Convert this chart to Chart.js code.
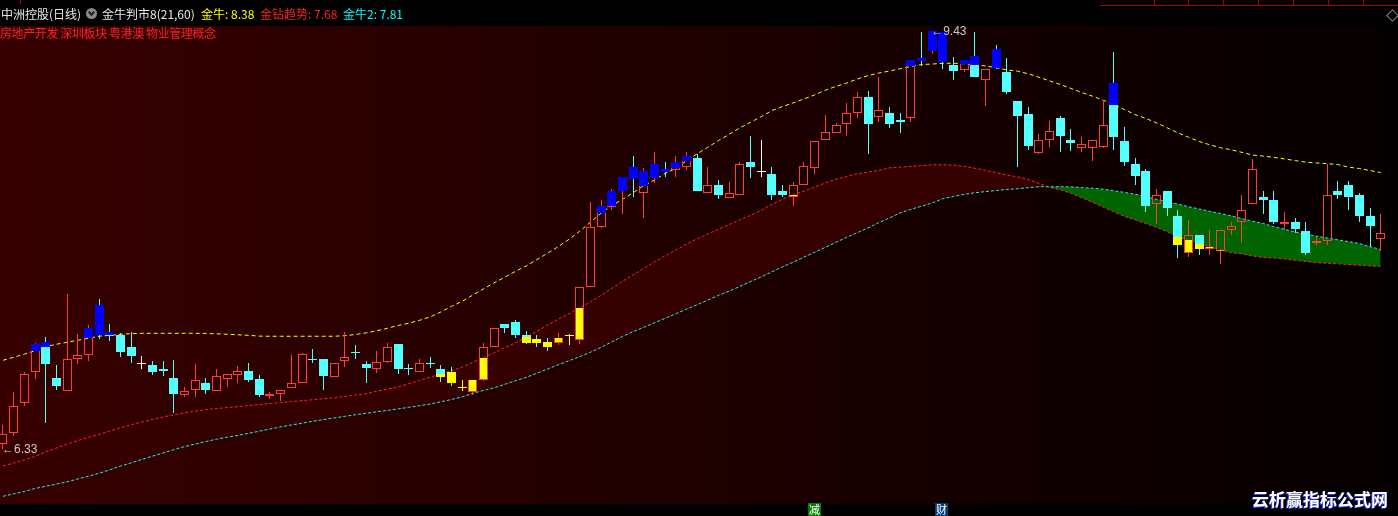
<!DOCTYPE html>
<html>
<head>
<meta charset="utf-8">
<title>中洲控股(日线)</title>
<script src="https://cdn.jsdelivr.net/npm/chart.js@4.4.0/dist/chart.umd.min.js"></script>
<style>
html, body { margin: 0; padding: 0; background: #000; }
#wrap { position: relative; width: 1398px; height: 516px; overflow: hidden;
        font-family: "Noto Sans CJK SC", "Noto Sans", sans-serif; }
#myChart { position: absolute; left: 0; top: 0; }
.t { position: absolute; font-size: 12px; line-height: 16px; white-space: nowrap; }
.ico { position: absolute; left: 86px; top: 8px; width: 11px; height: 11px; border-radius: 50%; background: #8a8a8a; }
.ico::after { content: ''; position: absolute; left: 3px; top: 2px; width: 3px; height: 3px;
              border-right: 2px solid #202020; border-bottom: 2px solid #202020; transform: rotate(45deg); }
.mark { position: absolute; font-family: "Liberation Sans", "DejaVu Sans", sans-serif; font-size: 12px;
        line-height: 14px; color: #c8c8c8; white-space: nowrap; }
.tag { position: absolute; top: 503px; width: 13px; height: 13px; font-size: 11px; line-height: 13px;
       text-align: center; color: #fff; }
.rl { position: absolute; background: #b00000; }
</style>
</head>
<body>
<div id="wrap">
  <canvas id="myChart" width="1398" height="516"></canvas>

  <div class="rl" style="left:20px;top:0;width:1px;height:4px"></div>
  <div class="rl" style="left:1100px;top:5px;width:298px;height:1px"></div>
  <div class="rl" style="left:1154px;top:0;width:1px;height:5px"></div>
  <div class="rl" style="left:1188px;top:0;width:1px;height:5px"></div>
  <div class="rl" style="left:1223px;top:0;width:1px;height:5px"></div>
  <div class="rl" style="left:1258px;top:0;width:1px;height:5px"></div>
  <div class="rl" style="left:1293px;top:0;width:1px;height:5px"></div>
  <div class="rl" style="left:1328px;top:0;width:1px;height:5px"></div>
  <div class="rl" style="left:1363px;top:0;width:1px;height:5px"></div>
  <div style="position:absolute;left:1388px;top:11px;width:7px;height:7px;border:1px solid #8a8a8a;transform:rotate(45deg)"></div>

  <div class="t" style="left:1px;top:6px;color:#e6e6e6">中洲控股(日线)</div>
  <div class="ico"></div>
  <div class="t" style="left:102px;top:6px;color:#e6e6e6">金牛判市8(21,60)</div>
  <div class="t" id="lbl1" style="left:201px;top:6px;color:#ffff00"></div>
  <div class="t" id="lbl2" style="left:260px;top:6px;color:#ff2020"></div>
  <div class="t" id="lbl3" style="left:343px;top:6px;color:#00ffff"></div>
  <div class="t" style="left:0;top:25px;color:#ff2020;letter-spacing:-0.4px">房地产开发 深圳板块 粤港澳 物业管理概念</div>

  <div class="mark" id="hiMark"></div>
  <div class="mark" id="loMark"></div>

  <div class="tag" style="left:808px;background:#067a06">减</div>
  <div class="tag" style="left:935px;background:#053a78">财</div>
  <div class="t" style="left:1252px;top:489px;font-size:17px;line-height:20px;font-weight:bold;color:#fff;text-shadow:-1px 1px 0 #2a40ff">云析赢指标公式网</div>
</div>

<script>
// K线数据 (开 高 低 收)
const openP = [6.37,6.45,6.67,6.90,7.12,6.855,6.76,6.995,7.03,7.395,
  7.20,7.175,7.09,6.96,6.95,6.922,6.855,6.73,6.765,6.82,
  6.76,6.85,6.875,6.905,6.85,6.72,6.735,6.78,6.82,7.00,
  7.00,6.865,6.98,7.05,6.96,6.92,6.975,7.105,6.925,6.90,
  6.97,6.92,6.90,6.785,6.75,6.84,7.085,7.26,7.27,7.175,
  7.145,7.12,7.115,7.165,7.135,7.535,7.98,8.125,8.24,8.425,
  8.23,8.34,8.41,8.40,8.425,8.49,8.23,8.285,8.195,8.215,
  8.46,8.385,8.37,8.245,8.20,8.29,8.415,8.625,8.675,8.74,
  8.82,8.94,8.795,8.82,8.77,8.785,9.23,9.28,9.42,9.18,
  9.14,9.245,9.07,9.295,9.125,8.91,8.815,8.525,8.625,8.785,
  8.625,8.565,8.565,8.57,9.045,8.615,8.44,8.395,8.15,8.245,
  8.06,7.785,7.915,7.81,7.80,7.955,8.01,8.15,8.20,8.18,
  8.00,8.015,7.95,7.855,7.875,8.24,8.285,8.21,8.06,7.89];
const highP = [6.51,6.75,6.90,7.11,7.16,6.95,7.48,7.18,7.25,7.44,
  7.255,7.19,7.20,7.02,6.98,6.98,6.99,6.79,6.96,6.855,
  6.92,6.885,6.945,6.965,6.875,6.75,6.765,7.03,7.035,7.07,
  7.00,6.965,7.195,7.10,6.98,7.055,7.115,7.105,6.96,7.00,
  7.01,6.95,6.935,6.84,6.84,7.115,7.23,7.26,7.285,7.205,
  7.175,7.15,7.19,7.18,7.535,8.165,8.18,8.255,8.35,8.505,
  8.415,8.535,8.46,8.50,8.535,8.52,8.425,8.325,8.31,8.455,
  8.65,8.625,8.425,8.285,8.31,8.46,8.615,8.81,8.75,8.895,
  8.98,8.985,9.09,8.865,8.82,9.215,9.42,9.43,9.42,9.235,
  9.215,9.42,9.15,9.325,9.23,8.91,8.865,8.665,8.765,8.80,
  8.705,8.645,8.625,8.92,9.275,8.72,8.49,8.41,8.26,8.245,
  8.105,8.03,7.915,7.955,7.955,8.015,8.21,8.48,8.24,8.24,
  8.09,8.04,8.015,7.90,8.445,8.32,8.32,8.225,8.12,8.07];
const lowP = [6.33,6.43,6.65,6.85,6.52,6.77,6.76,6.96,6.98,7.145,
  7.13,7.01,6.965,6.92,6.875,6.87,6.60,6.715,6.715,6.735,
  6.76,6.79,6.82,6.83,6.715,6.70,6.685,6.78,6.82,6.965,
  6.765,6.865,6.94,7.00,6.82,6.89,6.965,6.885,6.875,6.90,
  6.93,6.825,6.795,6.76,6.73,6.835,7.085,7.19,7.155,7.11,
  7.09,7.06,7.10,7.10,7.105,7.535,7.97,8.10,8.075,8.20,
  8.04,8.305,8.35,8.35,8.40,8.24,8.23,8.185,8.195,8.215,
  8.34,8.35,8.18,8.20,8.135,8.29,8.37,8.625,8.675,8.65,
  8.785,8.52,8.755,8.71,8.675,8.755,9.17,9.26,9.15,9.07,
  9.125,9.09,8.875,9.15,8.965,8.425,8.55,8.52,8.57,8.535,
  8.54,8.535,8.465,8.565,8.55,8.43,8.285,8.09,7.995,8.06,
  7.745,7.755,7.765,7.765,7.705,7.92,7.855,8.15,8.075,8.00,
  7.955,7.935,7.77,7.84,7.84,8.185,8.105,8.015,7.83,7.80];
const closeP = [6.44,6.65,6.885,7.107,6.96,6.80,7.00,7.03,7.23,7.175,
  7.165,7.05,7.02,6.96,6.90,6.907,6.74,6.76,6.84,6.765,
  6.87,6.885,6.905,6.84,6.73,6.737,6.765,6.82,7.033,6.99,
  6.87,6.965,7.01,7.04,6.93,6.975,7.09,6.92,6.92,6.965,
  6.96,6.865,6.82,6.785,6.84,7.09,7.23,7.23,7.175,7.115,
  7.115,7.09,7.15,7.165,7.535,7.98,8.135,8.24,8.35,8.335,
  8.395,8.44,8.385,8.46,8.505,8.245,8.285,8.215,8.23,8.44,
  8.425,8.385,8.21,8.215,8.29,8.43,8.615,8.68,8.735,8.82,
  8.94,8.74,8.845,8.74,8.755,9.215,9.205,9.43,9.20,9.135,
  9.215,9.09,9.15,9.155,8.98,8.80,8.58,8.625,8.69,8.65,
  8.60,8.595,8.625,8.735,8.645,8.455,8.355,8.135,8.215,8.12,
  7.845,7.915,7.815,7.83,7.955,7.985,8.105,8.41,8.18,8.01,
  8.015,7.965,7.785,7.875,8.21,8.215,8.20,8.06,7.985,7.935];

// 金牛 (黄色上轨)
const jinNiu = [6.988,7.010,7.033,7.059,7.088,7.107,7.121,7.136,7.151,7.166,
  7.173,7.181,7.185,7.188,7.188,7.188,7.188,7.188,7.188,7.187,
  7.184,7.181,7.177,7.173,7.167,7.166,7.166,7.166,7.166,7.166,
  7.166,7.166,7.170,7.179,7.191,7.207,7.225,7.246,7.263,7.284,
  7.310,7.346,7.388,7.425,7.472,7.518,7.562,7.605,7.648,7.688,
  7.735,7.782,7.831,7.885,7.945,8.012,8.078,8.135,8.181,8.231,
  8.283,8.325,8.373,8.411,8.468,8.519,8.568,8.618,8.664,8.712,
  8.753,8.795,8.840,8.870,8.897,8.926,8.956,8.991,9.019,9.044,
  9.074,9.099,9.118,9.133,9.150,9.167,9.181,9.185,9.190,9.191,
  9.187,9.179,9.171,9.158,9.141,9.132,9.113,9.087,9.060,9.033,
  9.004,8.974,8.947,8.917,8.884,8.848,8.810,8.782,8.749,8.712,
  8.675,8.642,8.611,8.586,8.564,8.549,8.530,8.510,8.502,8.493,
  8.481,8.469,8.457,8.451,8.446,8.439,8.420,8.410,8.395,8.380];
// 金钻趋势 (红线)
const jinZuan = [6.204,6.226,6.249,6.275,6.308,6.337,6.367,6.392,6.416,6.439,
  6.463,6.487,6.510,6.530,6.549,6.567,6.584,6.598,6.611,6.622,
  6.630,6.637,6.644,6.652,6.660,6.667,6.674,6.681,6.689,6.695,
  6.703,6.710,6.720,6.729,6.741,6.758,6.774,6.791,6.814,6.839,
  6.863,6.887,6.911,6.937,6.974,7.008,7.045,7.082,7.118,7.160,
  7.204,7.249,7.293,7.334,7.378,7.421,7.469,7.521,7.573,7.621,
  7.669,7.718,7.763,7.806,7.850,7.889,7.925,7.960,7.994,8.031,
  8.062,8.101,8.145,8.183,8.216,8.242,8.274,8.303,8.331,8.352,
  8.371,8.382,8.397,8.415,8.421,8.425,8.431,8.438,8.438,8.435,
  8.426,8.412,8.397,8.379,8.362,8.348,8.328,8.300,8.270,8.252,
  8.226,8.194,8.160,8.124,8.090,8.055,8.029,8.002,7.974,7.942,
  7.905,7.877,7.850,7.830,7.808,7.786,7.777,7.761,7.750,7.746,
  7.739,7.729,7.720,7.712,7.707,7.703,7.698,7.693,7.688,7.684];
// 金牛2 (青色线)
const jinNiu2 = [5.979,5.997,6.015,6.037,6.053,6.070,6.086,6.108,6.128,6.150,
  6.176,6.203,6.227,6.252,6.277,6.300,6.325,6.348,6.366,6.385,
  6.403,6.417,6.431,6.446,6.462,6.478,6.494,6.508,6.521,6.535,
  6.548,6.560,6.572,6.584,6.595,6.606,6.616,6.627,6.639,6.651,
  6.663,6.680,6.697,6.717,6.742,6.765,6.784,6.810,6.836,6.861,
  6.892,6.923,6.955,6.984,7.015,7.047,7.084,7.124,7.165,7.200,
  7.232,7.266,7.299,7.333,7.367,7.400,7.435,7.469,7.501,7.536,
  7.572,7.607,7.644,7.681,7.716,7.753,7.789,7.825,7.863,7.900,
  7.934,7.970,8.008,8.043,8.081,8.107,8.130,8.155,8.186,8.203,
  8.219,8.230,8.239,8.247,8.255,8.260,8.268,8.275,8.275,8.275,
  8.274,8.269,8.264,8.257,8.245,8.233,8.220,8.201,8.182,8.165,
  8.146,8.127,8.110,8.093,8.076,8.059,8.039,8.019,8.002,7.979,
  7.959,7.939,7.923,7.909,7.894,7.881,7.868,7.854,7.830,7.810];

const UP = '#ff3c3c', DOWN = '#54ffff', BLUE = '#0000ff', YEL = '#ffff00', WHITE = '#ffffff';
const idx = closeP.map((_, i) => i);

function kind(i) {
  if (closeP[i] > openP[i]) return 'up';
  if (closeP[i] < openP[i]) return 'down';
  return 'flat';
}
function candleColor(i) {
  const k = kind(i);
  if (k === 'up') return UP;
  if (k === 'down') return DOWN;
  return closeP[i] < jinZuan[i] ? YEL : WHITE;
}

// 影线
const wickData = [], wickColors = [];
idx.forEach(i => {
  const top = Math.max(openP[i], closeP[i]), bot = Math.min(openP[i], closeP[i]);
  if (highP[i] > top) { wickData.push({x: i, y: [top, highP[i]]}); wickColors.push(candleColor(i)); }
  if (lowP[i] < bot) { wickData.push({x: i, y: [lowP[i], bot]}); wickColors.push(candleColor(i)); }
});

// 实体
const bodyData = idx.map(i => ({x: i, y: [Math.min(openP[i], closeP[i]), Math.max(openP[i], closeP[i])]}));
const bodyBg = idx.map(i => kind(i) === 'up' ? 'rgba(0,0,0,0)' : candleColor(i));
const bodyBorder = idx.map(i => candleColor(i));
const bodyBw = idx.map(i => kind(i) === 'up' ? 1 : 0);

// 红线下方 -> 黄色, 黄线上方 -> 蓝色
const yelData = [], yelBw = [];
const blueData = [];
idx.forEach(i => {
  if (kind(i) === 'flat') return;
  const top = Math.max(openP[i], closeP[i]), bot = Math.min(openP[i], closeP[i]);
  if (bot < jinZuan[i]) {
    yelData.push({x: i, y: [bot, Math.min(top, jinZuan[i])]});
    yelBw.push(kind(i) === 'up' ? 1 : 0);
  }
  if (top > jinNiu[i]) blueData.push({x: i, y: [Math.max(bot, jinNiu[i]), top]});
});

const pts = arr => arr.map((v, i) => ({x: i, y: v}));
const last = arr => arr[arr.length - 1].toFixed(2);
document.getElementById('lbl1').textContent = '金牛: ' + last(jinNiu);
document.getElementById('lbl2').textContent = '金钻趋势: ' + last(jinZuan);
document.getElementById('lbl3').textContent = '金牛2: ' + last(jinNiu2);

// 背景
const bgPlugin = {
  id: 'bg',
  beforeDraw(chart) {
    const {ctx, chartArea: a, width, height} = chart;
    ctx.save();
    ctx.fillStyle = '#000';
    ctx.fillRect(0, 0, width, height);
    const g = ctx.createLinearGradient(a.left, 0, a.right, 0);
    g.addColorStop(0, '#370000');
    g.addColorStop(1, '#050000');
    ctx.fillStyle = g;
    ctx.fillRect(a.left, a.top, a.right - a.left, a.bottom - a.top);
    ctx.restore();
  }
};

// K线对齐到整像素, 线条清晰
const snapPlugin = {
  id: 'snap',
  beforeDatasetsDraw(chart) {
    chart.data.datasets.forEach((ds, di) => {
      const meta = chart.getDatasetMeta(di);
      if (meta.type !== 'bar') return;
      meta.data.forEach(el => {
        el.x = Math.floor(el.x) + 0.5;
        let y = Math.round(el.y), b = Math.round(el.base);
        if (Math.abs(b - y) < 1) y = b - 1;
        el.y = y;
        el.base = b;
        el.height = b - y;
      });
    });
  }
};

// 最高/最低价标记
const markPlugin = {
  id: 'marks',
  afterDraw(chart) {
    const xs = chart.scales.x, ys = chart.scales.y;
    let hi = 0, lo = 0;
    highP.forEach((v, i) => { if (v > highP[hi]) hi = i; });
    lowP.forEach((v, i) => { if (v < lowP[lo]) lo = i; });
    const put = (id, i, v) => {
      const el = document.getElementById(id);
      el.textContent = '←' + v.toFixed(2);
      el.style.left = (xs.getPixelForValue(i) - 1) + 'px';
      el.style.top = (ys.getPixelForValue(v) - 7) + 'px';
    };
    put('hiMark', hi, highP[hi]);
    put('loMark', lo, lowP[lo]);
  }
};

const barBase = { type: 'bar', grouped: false, inflateAmount: 0 };

let config = {
  type: 'bar',
  data: {
    datasets: [
      { type: 'line', label: '金牛', data: pts(jinNiu), borderColor: '#ffff00', borderWidth: 1,
        borderDash: [4, 3], pointRadius: 0, fill: false, order: 12 },
      { type: 'line', label: '金钻趋势', data: pts(jinZuan), borderColor: '#ff2020', borderWidth: 1,
        borderDash: [3, 2], pointRadius: 0, order: 11,
        fill: { target: 2, above: '#350000', below: '#006400' } },
      { type: 'line', label: '金牛2', data: pts(jinNiu2), borderColor: '#2ee6e6', borderWidth: 1,
        borderDash: [3, 2], pointRadius: 0, fill: false, order: 10 },
      { ...barBase, label: 'wick', data: wickData, backgroundColor: wickColors, barThickness: 1, order: 5 },
      { ...barBase, label: 'body', data: bodyData, backgroundColor: bodyBg, borderColor: bodyBorder,
        borderWidth: bodyBw, borderSkipped: false, barThickness: 9, minBarLength: 1, order: 4 },
      { ...barBase, label: 'low', data: yelData, backgroundColor: YEL, borderColor: UP,
        borderWidth: yelBw, borderSkipped: 'end', barThickness: 9, order: 3 },
      { ...barBase, label: 'high', data: blueData, backgroundColor: BLUE, borderWidth: 0,
        barThickness: 9, order: 2 }
    ]
  },
  options: {
    responsive: false,
    animation: false,
    devicePixelRatio: 1,
    events: [],
    layout: { padding: { top: 26, bottom: 12, left: 0, right: 0 } },
    scales: {
      x: { type: 'linear', min: -0.28, max: 130.62, offset: false, display: false },
      y: { type: 'linear', min: 5.922, max: 9.467, display: false }
    },
    plugins: { legend: { display: false }, tooltip: { enabled: false } }
  },
  plugins: [bgPlugin, snapPlugin, markPlugin]
};

window.addEventListener('load', function() {
  let ctx = document.getElementById('myChart').getContext('2d');
  new Chart(ctx, config);
}, false);
</script>
</body>
</html>
